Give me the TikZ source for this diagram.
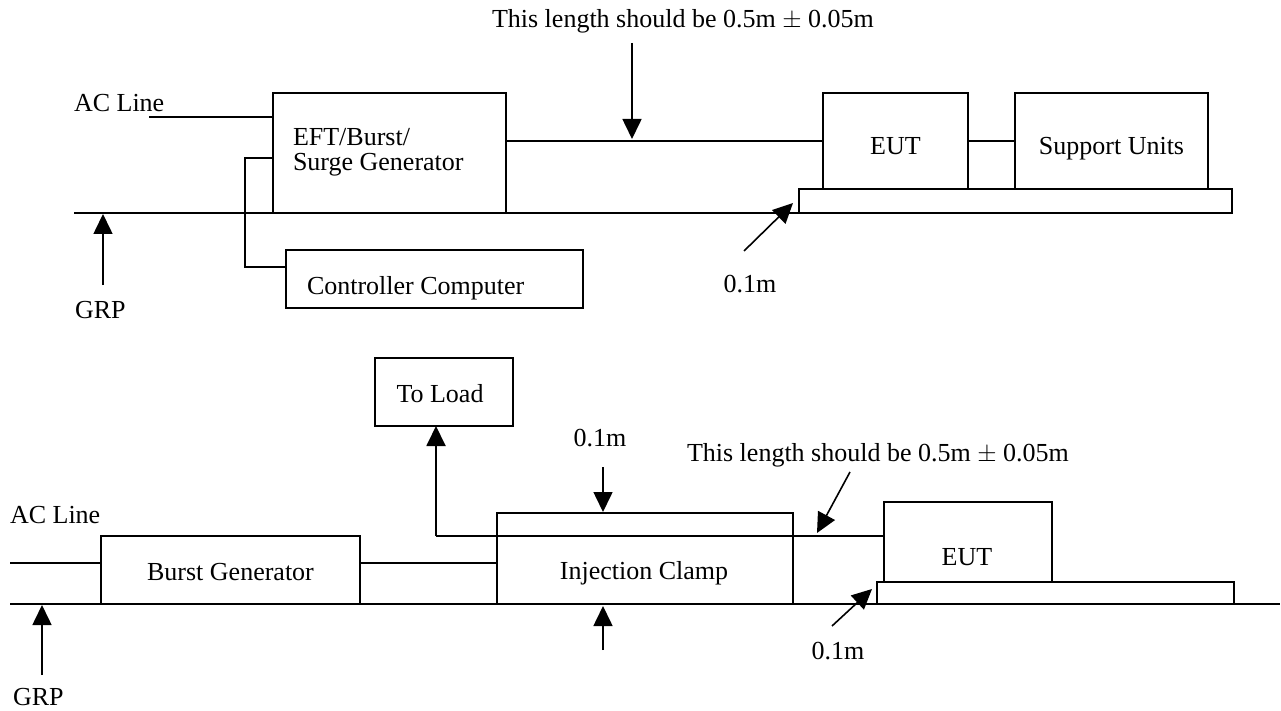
\documentclass[tikz,border=0pt]{standalone}
\usepackage{fontspec}
\setmainfont{Liberation Serif}
\usetikzlibrary{arrows.meta,calc}
\begin{document}
\begin{tikzpicture}[x=1pt,y=-1pt,
  box/.style={draw,line width=1.8pt,inner sep=0pt,outer sep=0pt,fill=white},
  wire/.style={line width=2.4pt},
  thinwire/.style={line width=1.9pt},
  gnd/.style={line width=1.9pt},
  pointer/.style={line width=1.6pt,-{Triangle[length=20pt,width=19pt]}},
  txt/.style={inner sep=0pt,outer sep=0pt,font=\fontsize{26}{25}\selectfont}]
\useasboundingbox (0,0) rectangle (1281,711);
% ---------- top diagram ----------
\draw[gnd] (74,213) -- (1232,213);
\node[box,minimum width=233pt,minimum height=120pt] (eft) at (389.5,153) {};
\node[box,minimum width=297pt,minimum height=58pt] (ctrl) at (434.5,279) {};
\node[box,minimum width=433pt,minimum height=24pt] (plat1) at (1015.5,201) {};
\node[box,minimum width=145pt,minimum height=96pt] (eut1) at (895.5,141) {};
\node[box,minimum width=193pt,minimum height=96pt] (sup) at (1111.5,141) {};
\node[txt,anchor=base west] (tlen1) at (492,28) {This length should be 0.5m $\pm$ 0.05m};
\node[txt,anchor=base west] (ac1) at (74,112) {AC Line};
\node[txt,anchor=base west] (grp1) at (75,318) {GRP};
\node[txt,anchor=base west,align=left] (eftt) at (293,171) {EFT/Burst/\\Surge Generator};
\node[txt,anchor=base west] (ctrlt) at (307,294) {Controller Computer};
\node[txt,anchor=base] (eutt1) at (895.5,155) {EUT};
\node[txt,anchor=base] (supt) at (1111.5,155) {Support Units};
\node[txt,anchor=base] (d1) at (750,292) {0.1m};
\coordinate (acw) at (149,117);
\coordinate (cw) at (245,158);
\coordinate (cw2) at (245,267);
\draw[wire] (acw) -- (acw -| eft.west);
\draw[wire] (cw -| eft.west) -- (cw) -- (cw2) -- (cw2 -| ctrl.west);
\draw[wire] (eft.east |- eut1.west) -- (eut1.west);
\draw[thinwire] (eut1.east) -- (sup.west);
\coordinate (a1s) at (632,43);
\coordinate (a1e) at (632,139);
\draw[pointer] (a1s) -- (a1e);
\coordinate (g1s) at (103,285);
\coordinate (g1e) at (103,214);
\draw[pointer] (g1s) -- (g1e);
\coordinate (p1s) at (744,251);
\coordinate (p1e) at (793,203);
\draw[pointer] (p1s) -- (p1e);
% ---------- bottom diagram ----------
\draw[gnd] (10,604) -- (1280,604);
\node[box,minimum width=138pt,minimum height=68pt] (toload) at (444,392) {};
\node[box,minimum width=259pt,minimum height=68pt] (burst) at (230.5,570) {};
\node[box,minimum width=296pt,minimum height=91pt] (clamp) at (645,558.5) {};
\node[box,minimum width=357pt,minimum height=22pt] (plat2) at (1055.5,593) {};
\node[box,minimum width=168pt,minimum height=80pt] (eut2) at (968,542) {};
\node[txt,anchor=base] (tlt) at (440,402) {To Load};
\node[txt,anchor=base] (bgt) at (230.5,580) {Burst Generator};
\node[txt,anchor=base] (ict) at (644,579) {Injection Clamp};
\node[txt,anchor=base] (eutt2) at (967,565) {EUT};
\node[txt,anchor=base west] (ac2) at (10,523) {AC Line};
\node[txt,anchor=base west] (grp2) at (13,705) {GRP};
\node[txt,anchor=base] (d2) at (600,446) {0.1m};
\node[txt,anchor=base] (d3) at (838,659) {0.1m};
\node[txt,anchor=base west] (tlen2) at (687,461) {This length should be 0.5m $\pm$ 0.05m};
\coordinate (acw2) at (10,563);
\draw[thinwire] (acw2) -- (acw2 -| burst.west);
\draw[thinwire] (burst.east |- acw2) -- (clamp.west |- acw2);
\coordinate (tl) at (436,536);
\draw[thinwire] (tl -| eut2.west) -- (tl);
\draw[thinwire,-{Triangle[length=20pt,width=19pt]}] (tl) -- (tl |- toload.south);
\coordinate (b1s) at (603,467);
\coordinate (b1e) at (603,512);
\draw[pointer] (b1s) -- (b1e);
\coordinate (b2s) at (603,650);
\coordinate (b2e) at (603,606);
\draw[pointer] (b2s) -- (b2e);
\coordinate (b3s) at (850,472);
\coordinate (b3e) at (817,533);
\draw[pointer] (b3s) -- (b3e);
\coordinate (b4s) at (832,626);
\coordinate (b4e) at (872,589);
\draw[pointer] (b4s) -- (b4e);
\coordinate (g2s) at (42,675);
\coordinate (g2e) at (42,605);
\draw[pointer] (g2s) -- (g2e);
\end{tikzpicture}
\end{document}
